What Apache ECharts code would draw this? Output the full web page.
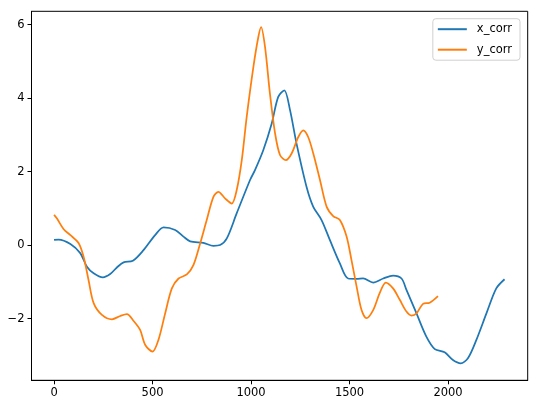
<!DOCTYPE html>
<html>
<head>
<meta charset="utf-8">
<script src="https://cdn.jsdelivr.net/npm/echarts@6/dist/echarts.min.js"></script>
<style>
html,body{margin:0;padding:0;background:#fff;}
#c{width:533px;height:402px;}
</style>
</head>
<body>
<div id="c"></div>
<script>
const xTicks = [0, 500, 1000, 1500, 2000];
const yTicks = [-2, 0, 2, 4, 6];
const seriesNames = ['x_corr', 'y_corr'];

const xCorrX = [0, 23, 83, 133, 167, 201, 248, 285, 319, 353, 400, 454, 513, 556, 615, 657, 691, 758, 809, 843, 877, 927, 995, 1020, 1062, 1105, 1138, 1169, 1198, 1231, 1282, 1316, 1358, 1400, 1451, 1493, 1536, 1569, 1620, 1671, 1721, 1764, 1789, 1840, 1890, 1933, 1983, 2025, 2064, 2101, 2144, 2195, 2245, 2287];
const xCorrY = [0.14, 0.15, 0.03, -0.22, -0.59, -0.77, -0.88, -0.79, -0.61, -0.47, -0.43, -0.14, 0.27, 0.48, 0.41, 0.23, 0.10, 0.06, -0.02, 0.0, 0.18, 0.86, 1.77, 2.04, 2.58, 3.31, 4.03, 4.21, 3.67, 2.76, 1.58, 1.04, 0.68, 0.14, -0.50, -0.91, -0.92, -0.91, -1.02, -0.91, -0.83, -0.91, -1.22, -1.86, -2.49, -2.83, -2.92, -3.13, -3.22, -3.08, -2.58, -1.86, -1.18, -0.93];

const yCorrX = [0, 15, 49, 83, 125, 150, 175, 201, 243, 294, 336, 370, 403, 437, 463, 500, 530, 564, 598, 632, 674, 708, 742, 775, 809, 834, 868, 902, 927, 953, 978, 1012, 1037, 1051, 1071, 1096, 1122, 1147, 1177, 1206, 1240, 1265, 1290, 1316, 1350, 1384, 1417, 1451, 1485, 1510, 1536, 1561, 1586, 1620, 1653, 1684, 1721, 1755, 1789, 1815, 1840, 1873, 1907, 1949];
const yCorrY = [0.82, 0.72, 0.43, 0.27, 0.05, -0.32, -0.95, -1.58, -1.90, -2.02, -1.93, -1.88, -2.06, -2.31, -2.72, -2.90, -2.58, -1.86, -1.18, -0.91, -0.80, -0.54, 0.05, 0.68, 1.31, 1.45, 1.27, 1.13, 1.49, 2.31, 3.49, 4.85, 5.66, 5.93, 5.39, 4.12, 3.04, 2.45, 2.31, 2.49, 2.94, 3.12, 2.94, 2.49, 1.77, 1.04, 0.79, 0.68, 0.23, -0.41, -1.13, -1.77, -1.99, -1.77, -1.31, -1.02, -1.18, -1.49, -1.81, -1.92, -1.86, -1.60, -1.57, -1.39];

const zip = (a, b) => a.map((v, i) => [v, b[i]]);
const font = 'DejaVu Sans';
const fmt = v => (v < 0 ? '\u2212' + Math.abs(v) : String(v));
const chart = echarts.init(document.getElementById('c'), null, {renderer: 'canvas'});
chart.setOption({
  animation: false,
  backgroundColor: '#fff',
  grid: {left: 31.5, right: 5.3, top: 11.3, bottom: 21.7, show: true, borderColor: '#000', borderWidth: 1, containLabel: false},
  legend: {
    orient: 'vertical', right: 13, top: 18.7,
    data: seriesNames.map(n => ({name: n, icon: 'rect'})),
    itemWidth: 29, itemHeight: 2, itemGap: 6.5,
    padding: [3.5, 8, 3.5, 5],
    borderColor: '#d0d0d0', borderWidth: 1, borderRadius: 3,
    backgroundColor: 'rgba(255,255,255,0.8)',
    textStyle: {fontFamily: font, fontSize: 11.5, color: '#000', padding: [0, 0, 0, 5], lineHeight: 14}
  },
  xAxis: {
    type: 'value', min: -114.5, max: 2404.5,
    splitLine: {show: false},
    axisLine: {show: true, onZero: false, lineStyle: {color: '#000', width: 1}},
    axisTick: {show: true, inside: false, length: 4, lineStyle: {color: '#000'}, customValues: xTicks},
    axisLabel: {customValues: xTicks, fontFamily: font, fontSize: 11.5, color: '#000', margin: 7, formatter: fmt}
  },
  yAxis: {
    type: 'value', min: -3.68, max: 6.36,
    splitLine: {show: false},
    axisLine: {show: true, onZero: false, lineStyle: {color: '#000', width: 1}},
    axisTick: {show: true, inside: false, length: 4, lineStyle: {color: '#000'}, customValues: yTicks},
    axisLabel: {customValues: yTicks, fontFamily: font, fontSize: 11.5, color: '#000', margin: 7, formatter: fmt}
  },
  series: [
    {name: seriesNames[0], type: 'line', data: zip(xCorrX, xCorrY), showSymbol: false, smooth: 0.3,
      lineStyle: {color: '#1f77b4', width: 1.75}, itemStyle: {color: '#1f77b4'}},
    {name: seriesNames[1], type: 'line', data: zip(yCorrX, yCorrY), showSymbol: false, smooth: 0.3,
      lineStyle: {color: '#ff7f0e', width: 1.75}, itemStyle: {color: '#ff7f0e'}}
  ]
});
</script>
</body>
</html>
